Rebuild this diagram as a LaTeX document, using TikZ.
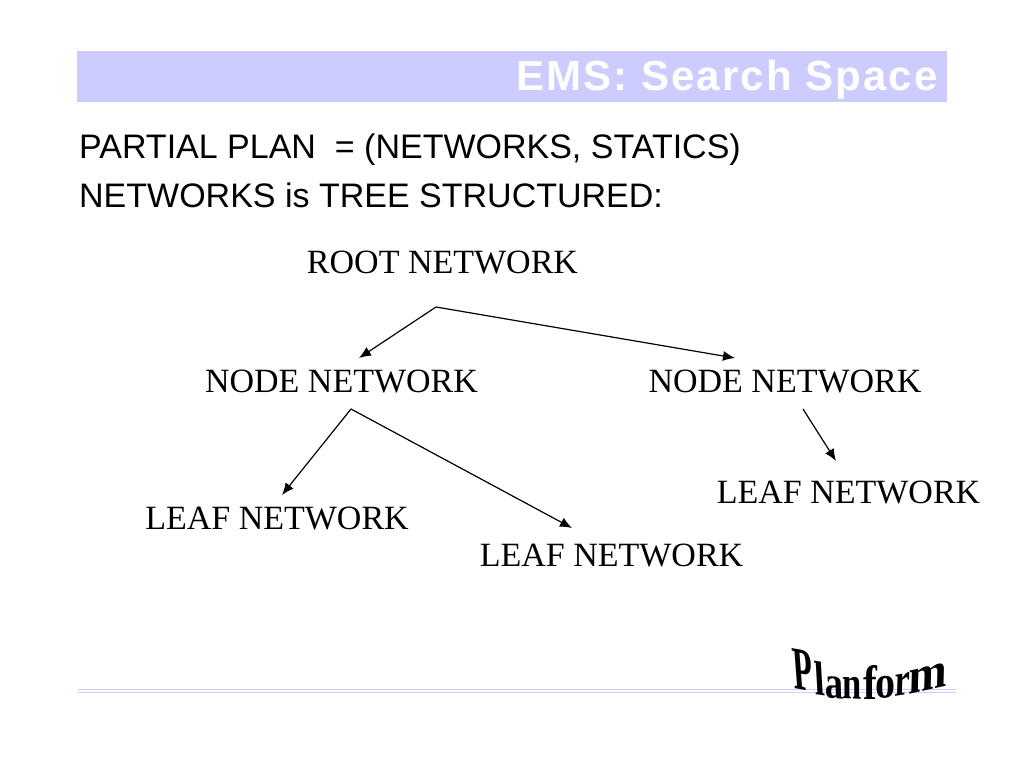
\documentclass[tikz,border=0pt]{standalone}
\usepackage{fontspec}
\setmainfont{Liberation Serif}
\setsansfont{Liberation Sans}
\usetikzlibrary{arrows.meta}
\definecolor{bandblue}{HTML}{CCCCFF}
\begin{document}
\begin{tikzpicture}[
  x=1pt, y=-1pt,
  every node/.style={inner sep=0pt},
  band/.style={fill=bandblue, draw=none},
  rulepart/.style={draw=bandblue, line width=1.2pt},
  title/.style={anchor=base east, font=\sffamily\bfseries\fontsize{42}{42}\selectfont\addfontfeature{LetterSpace=5}, text=white},
  heading/.style={anchor=base west, font=\sffamily\fontsize{34}{34}\selectfont},
  net/.style={anchor=center, font=\fontsize{34}{34}\selectfont},
  arrow/.style={draw, line width=1.2pt, -{Latex[length=12pt,width=10pt]}},
  wordart/.style={font=\bfseries\fontsize{46}{46}\selectfont}]

  \useasboundingbox (0,0) rectangle (1024,768);

  % ---- the title band -------------------------------------------------------
  \fill[band] (77,51) rectangle (947,102);
  \node[title] (titletext) at (938,90) {EMS: Search Space};

  % ---- the two lines of text --------------------------------------------------
  \node[heading] (planline) at (79,158) {PARTIAL PLAN~~= (NETWORKS, STATICS)};
  \node[heading] (treeline) at (79,207.5) {NETWORKS is TREE STRUCTURED:};

  % ---- the networks -----------------------------------------------------------
  \node[net] (root) at (442.5,262.5) {ROOT NETWORK};
  \node[net] (nodea) at (341.5,381.5) {NODE NETWORK};
  \node[net] (nodeb) at (785,381.5) {NODE NETWORK};
  \node[net] (leafa) at (277,518.5) {LEAF NETWORK};
  \node[net] (leafb) at (611.5,555.5) {LEAF NETWORK};
  \node[net] (leafc) at (848.5,492.5) {LEAF NETWORK};

  % ---- the free ends of the connectors ------------------------------------------
  \coordinate (rootfork) at (436,307);
  \coordinate (nodeafork) at (351,409);
  \coordinate (nodebfork) at (803,409);
  \coordinate (nodeatip) at (359,358);
  \coordinate (nodebtip) at (735,358);
  \coordinate (leafatip) at (282,495);
  \coordinate (leafbtip) at (572,528);
  \coordinate (leafctip) at (836,461);

  \draw[arrow] (rootfork) -- (nodeatip);
  \draw[arrow] (rootfork) -- (nodebtip);
  \draw[arrow] (nodeafork) -- (leafatip);
  \draw[arrow] (nodeafork) -- (leafbtip);
  \draw[arrow] (nodebfork) -- (leafctip);

  % ---- the rule at the foot, then the curved word on it --------------------------
  \draw[rulepart] (78,689.5) -- (956,689.5);
  \draw[rulepart] (78,692.5) -- (956,692.5);

  % each letter: x, y, then the four entries of its warp, then the letter
  \foreach \lx/\ly/\warpa/\warpb/\warpc/\warpd/\letter in {
      803/670/.7/-.12/-.1/1.33/P, 820/678/.8/-.12/-.06/1.05/l,
      834/687.5/.8/-.08/-.03/1/a, 852/688.5/.75/-.03/0/1/n,
      870/682/.9/0/0/1.05/f, 885/687.5/.87/.05/0/1/o,
      902/684/.75/.12/.03/1/r, 928/678/1/.22/.03/1.1/m}
    \node[wordart, cm={\warpa,\warpb,\warpc,\warpd,(0,0)}] (word\letter) at (\lx,\ly) {\letter};
\end{tikzpicture}
\end{document}
